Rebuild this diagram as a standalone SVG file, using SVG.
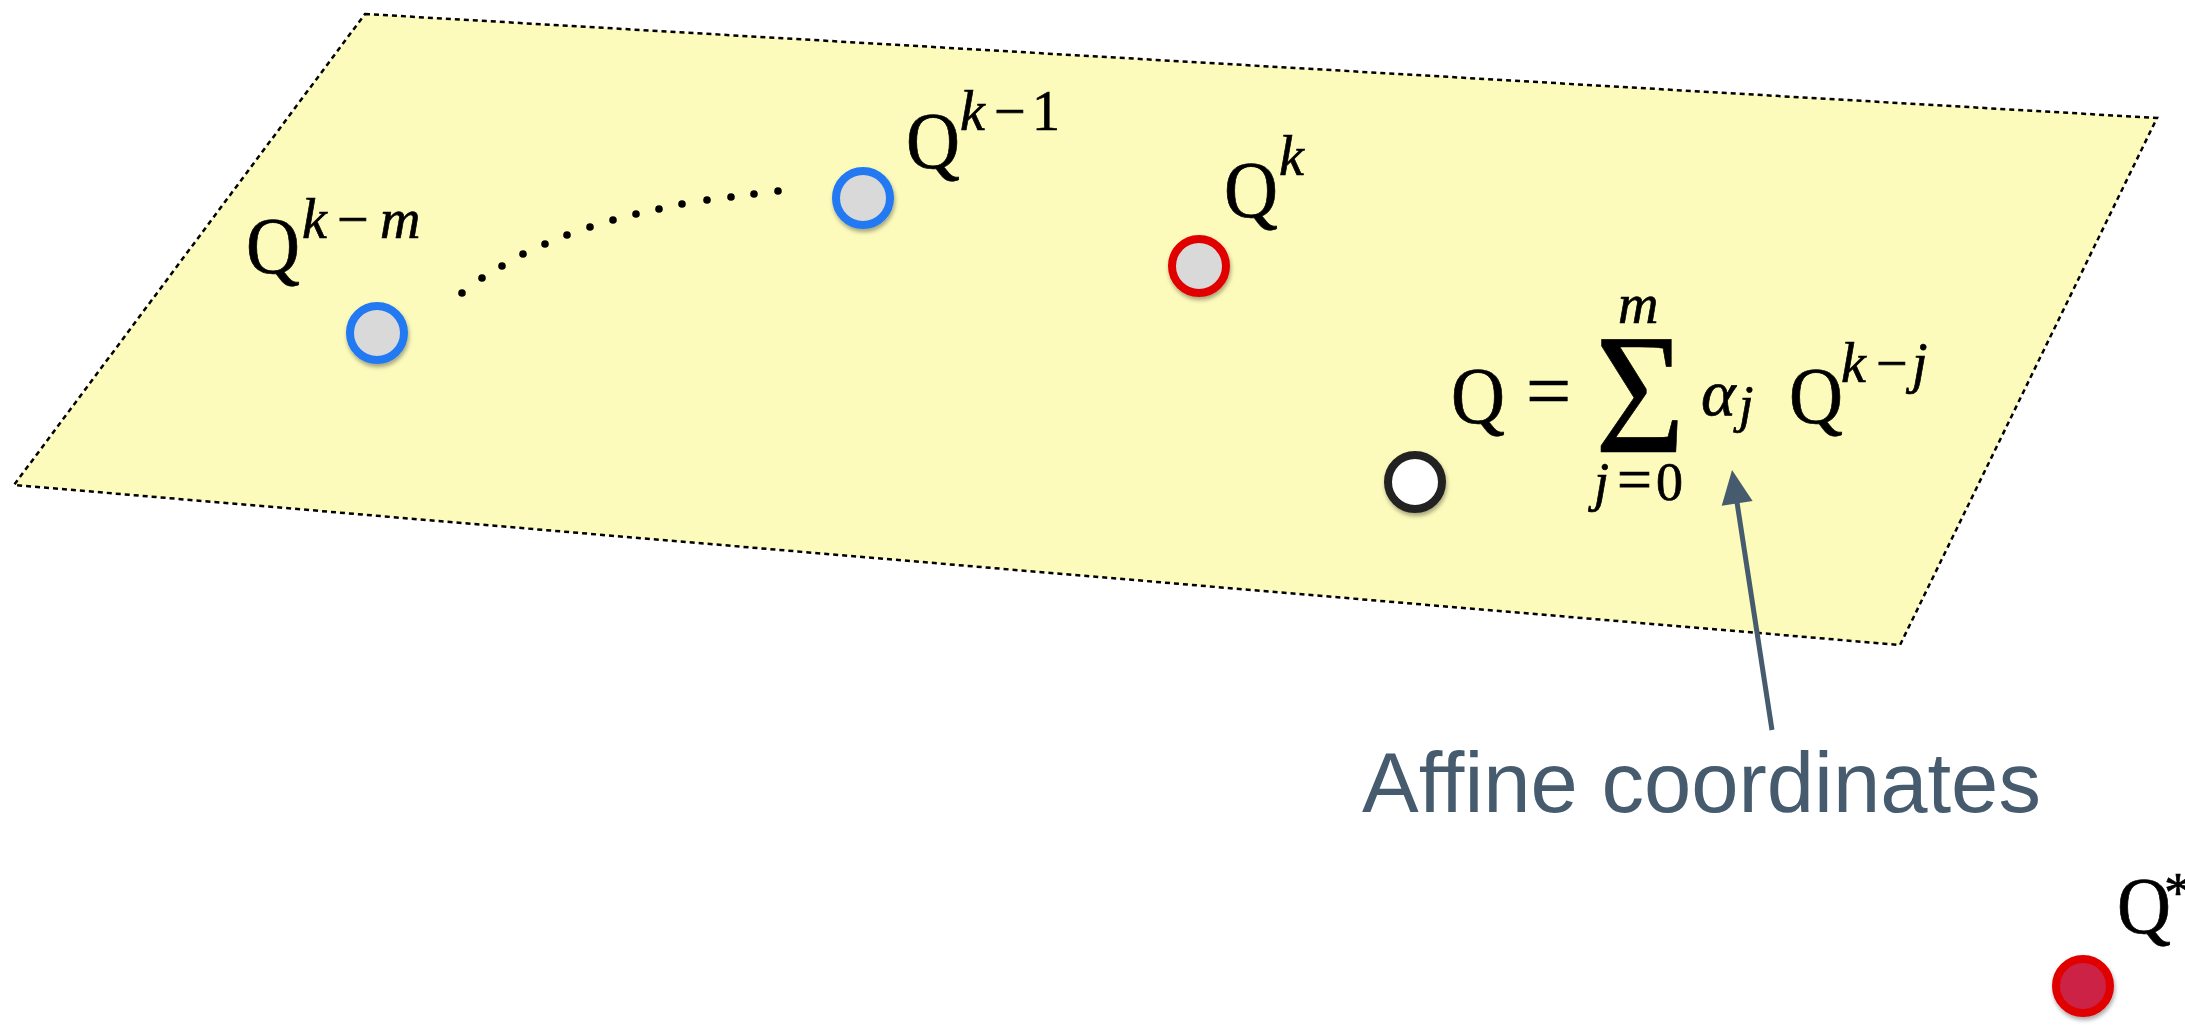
<svg xmlns="http://www.w3.org/2000/svg" width="2185" height="1025" viewBox="0 0 2185 1025">
  <style>
    .m { font-family: "Liberation Serif", "Times New Roman", serif; fill: #000; stroke: #000; stroke-width: 0.7; }
    .i { font-style: italic; }
    .node { stroke-width: 8; filter: url(#sh); }
    .gray { fill: #d9d9d9; }
    .blue { stroke: #2279f2; }
    .red { stroke: #e00000; }
    .dot { fill: #000; }
    .lbl { font-family: "Liberation Sans", Arial, Helvetica, sans-serif; fill: #475b6e; }
  </style>
  <defs>
    <filter id="sh" x="-50%" y="-50%" width="200%" height="200%">
      <feDropShadow dx="1" dy="3" stdDeviation="2" flood-color="#000" flood-opacity="0.35"/>
    </filter>
    <marker id="ah" markerUnits="userSpaceOnUse" markerWidth="40" markerHeight="40" viewBox="-4 -14 32 28" refX="0" refY="0" orient="auto">
      <path d="M-3,-12.5 L24,0 L-3,12.5 Z" fill="#475b6e"/>
    </marker>
  </defs>
  <rect width="2185" height="1025" fill="#fff"/>

  <g id="plane">
    <polygon points="365,14 2157,118 1900,645 14,485" fill="#fdfbbb" stroke="#000" stroke-width="2.5" stroke-dasharray="5,4"/>
  </g>

  <g id="connectors">
    <g id="dots">
      <circle class="dot" cx="462" cy="293" r="3.8"/>
      <circle class="dot" cx="482" cy="278" r="3.8"/>
      <circle class="dot" cx="502" cy="266" r="3.8"/>
      <circle class="dot" cx="523" cy="254" r="3.8"/>
      <circle class="dot" cx="545" cy="244" r="3.8"/>
      <circle class="dot" cx="567" cy="235" r="3.8"/>
      <circle class="dot" cx="590" cy="227" r="3.8"/>
      <circle class="dot" cx="613" cy="220" r="3.8"/>
      <circle class="dot" cx="636" cy="214" r="3.8"/>
      <circle class="dot" cx="659" cy="209" r="3.8"/>
      <circle class="dot" cx="682" cy="204" r="3.8"/>
      <circle class="dot" cx="707" cy="200" r="3.8"/>
      <circle class="dot" cx="731" cy="197" r="3.8"/>
      <circle class="dot" cx="754" cy="194" r="3.8"/>
      <circle class="dot" cx="778" cy="191" r="3.8"/>
    </g>
    <line id="arrow" x1="1772" y1="730" x2="1736.6" y2="499.7" stroke="#475b6e" stroke-width="5" marker-end="url(#ah)"/>
  </g>

  <g id="node-qkm">
    <circle class="node gray blue" cx="377" cy="333" r="27"/>
    <text class="m" x="246" y="273" font-size="80" textLength="54" lengthAdjust="spacingAndGlyphs">Q</text>
    <text class="m i" y="238" font-size="56"><tspan x="302">k</tspan><tspan x="337" font-style="normal">−</tspan><tspan x="380">m</tspan></text>
  </g>

  <g id="node-qk1">
    <circle class="node gray blue" cx="863" cy="198" r="27"/>
    <text class="m" x="906" y="168" font-size="80" textLength="54" lengthAdjust="spacingAndGlyphs">Q</text>
    <text class="m i" y="130" font-size="56"><tspan x="960">k</tspan><tspan x="994" font-style="normal">−</tspan><tspan x="1032" font-style="normal">1</tspan></text>
  </g>

  <g id="node-qk">
    <circle class="node gray red" cx="1199" cy="266" r="27"/>
    <text class="m" x="1224" y="217" font-size="80" textLength="54" lengthAdjust="spacingAndGlyphs">Q</text>
    <text class="m i" x="1279" y="175" font-size="56">k</text>
  </g>

  <g id="node-q">
    <circle class="node" cx="1415" cy="482" r="27" fill="#fff" stroke="#222"/>
    <g id="formula">
      <text class="m" x="1451" y="423" font-size="80" textLength="54" lengthAdjust="spacingAndGlyphs">Q</text>
      <text class="m" x="1526" y="418" font-size="80">=</text>
      <text class="m" x="1595" y="452" font-size="172" textLength="90" lengthAdjust="spacingAndGlyphs">Σ</text>
      <text class="m i" x="1618" y="323" font-size="56">m</text>
      <text class="m" y="500" font-size="54"><tspan x="1594" font-style="italic">j</tspan><tspan x="1617" font-size="62">=</tspan><tspan x="1656">0</tspan></text>
      <text class="m i" x="1701" y="415" font-size="66">α</text>
      <text class="m i" x="1739" y="422" font-size="52">j</text>
      <text class="m" x="1789" y="423" font-size="80" textLength="54" lengthAdjust="spacingAndGlyphs">Q</text>
      <text class="m i" y="382" font-size="56"><tspan x="1841">k</tspan><tspan x="1876" font-style="normal">−</tspan><tspan x="1912">j</tspan></text>
    </g>
  </g>

  <g id="node-qstar">
    <circle class="node red" cx="2083" cy="986" r="27" fill="#cc2244"/>
    <text class="m" x="2117" y="933" font-size="80" textLength="54" lengthAdjust="spacingAndGlyphs">Q</text>
    <text class="m" x="2164" y="912" font-size="56">*</text>
  </g>

  <g id="label-affine">
    <text class="lbl" x="1362" y="812" font-size="85">Affine coordinates</text>
  </g>
</svg>
